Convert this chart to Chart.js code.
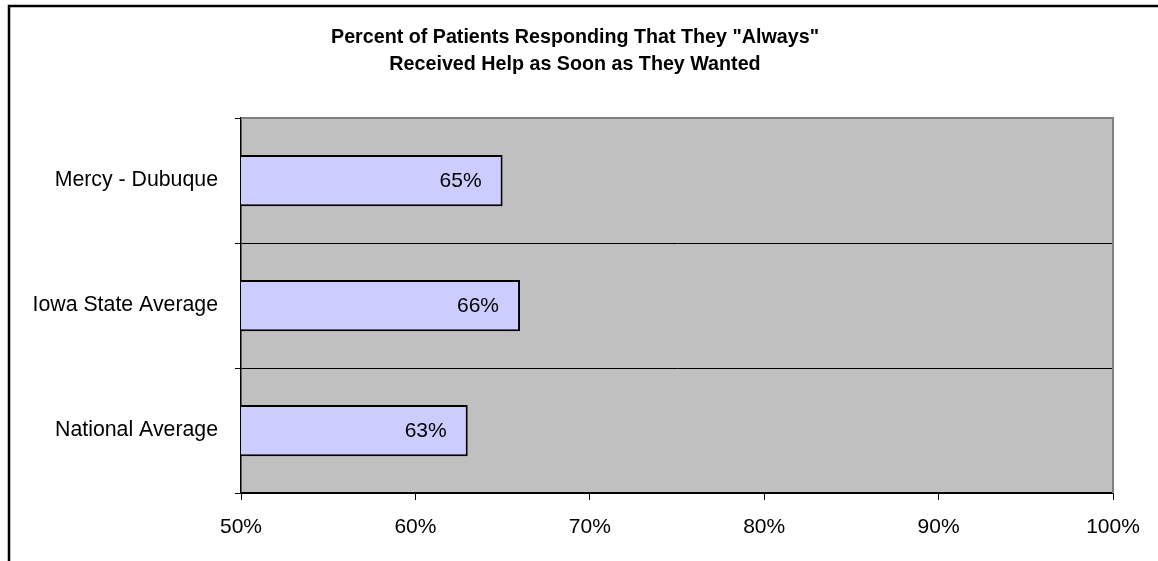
<!DOCTYPE html>
<html>
<head>
<meta charset="utf-8">
<script src="https://cdn.jsdelivr.net/npm/chart.js@4/dist/chart.umd.min.js"></script>
<style>
  html, body { margin: 0; padding: 0; background: #fff; }
  #wrap { width: 1158px; height: 561px; }
</style>
</head>
<body>
<div id="wrap"><canvas id="chart"></canvas></div>
<script>
const categories = ['Mercy - Dubuque', 'Iowa State Average', 'National Average'];
const percents = [65, 66, 63];
const tickValues = [50, 60, 70, 80, 90, 100];
const titleLines = ['Percent of Patients Responding That They "Always"', 'Received Help as Soon as They Wanted'];

const FONT = '"Liberation Sans", Arial, sans-serif';

// frame, title, gray plot background, value labels
const decor = {
  id: 'decor',
  beforeDraw(chart) {
    const { ctx, chartArea: a } = chart;
    ctx.save();
    ctx.fillStyle = '#c0c0c0';
    ctx.fillRect(a.left, a.top, a.right - a.left, a.bottom - a.top);
    ctx.strokeStyle = '#000';
    ctx.lineWidth = 2.5;
    ctx.beginPath();
    ctx.moveTo(9, 561);
    ctx.lineTo(9, 6);
    ctx.lineTo(1158, 6);
    ctx.stroke();
    // title
    ctx.fillStyle = '#000';
    ctx.font = 'bold 19.7px ' + FONT;
    ctx.textAlign = 'center';
    ctx.textBaseline = 'middle';
    titleLines.forEach((t, i) => ctx.fillText(t, 575, 38 + i * 26.5));
    ctx.restore();
  },
  afterDatasetsDraw(chart) {
    const { ctx, chartArea: a } = chart;
    ctx.save();
    ctx.strokeStyle = '#808080';
    ctx.lineWidth = 2;
    ctx.beginPath();
    ctx.moveTo(a.left, a.top);
    ctx.lineTo(a.right, a.top);
    ctx.lineTo(a.right, a.bottom);
    ctx.stroke();
    ctx.fillStyle = '#000';
    ctx.font = '21px ' + FONT;
    ctx.textAlign = 'right';
    ctx.textBaseline = 'middle';
    chart.getDatasetMeta(0).data.forEach((bar, i) => {
      ctx.fillText(percents[i] + '%', bar.x - 21, bar.y + 1);
    });
    ctx.restore();
  }
};

new Chart(document.getElementById('chart'), {
  type: 'bar',
  data: {
    labels: categories,
    datasets: [{
      data: percents,
      backgroundColor: '#ccccff',
      borderColor: '#000',
      borderWidth: 2,
      barPercentage: 0.41,
      categoryPercentage: 1
    }]
  },
  options: {
    indexAxis: 'y',
    responsive: true,
    maintainAspectRatio: false,
    animation: false,
    layout: { padding: { left: 0, right: 45, top: 118, bottom: 0 } },
    plugins: {
      legend: { display: false },
      tooltip: { enabled: false },
      title: { display: false }
    },
    scales: {
      x: {
        min: 50,
        max: 100,
        afterBuildTicks(axis) {
          axis.ticks = tickValues.map(v => ({ value: v }));
        },
        afterFit(axis) { axis.height = 68; },
        grid: {
          drawOnChartArea: false,
          drawTicks: true,
          tickLength: 7,
          color: '#000'
        },
        border: { color: '#000', width: 1.5 },
        ticks: {
          color: '#000',
          padding: 15,
          maxRotation: 0,
          font: { family: FONT, size: 21 },
          callback: v => v + '%'
        }
      },
      y: {
        afterFit(axis) { axis.width = 241; },
        grid: {
          offset: true,
          color: '#000',
          lineWidth: 1,
          tickLength: 6
        },
        border: { color: '#000', width: 1.5 },
        ticks: {
          color: '#000',
          padding: 17,
          font: { family: FONT, size: 21.3 }
        }
      }
    }
  },
  plugins: [decor]
});
</script>
</body>
</html>
